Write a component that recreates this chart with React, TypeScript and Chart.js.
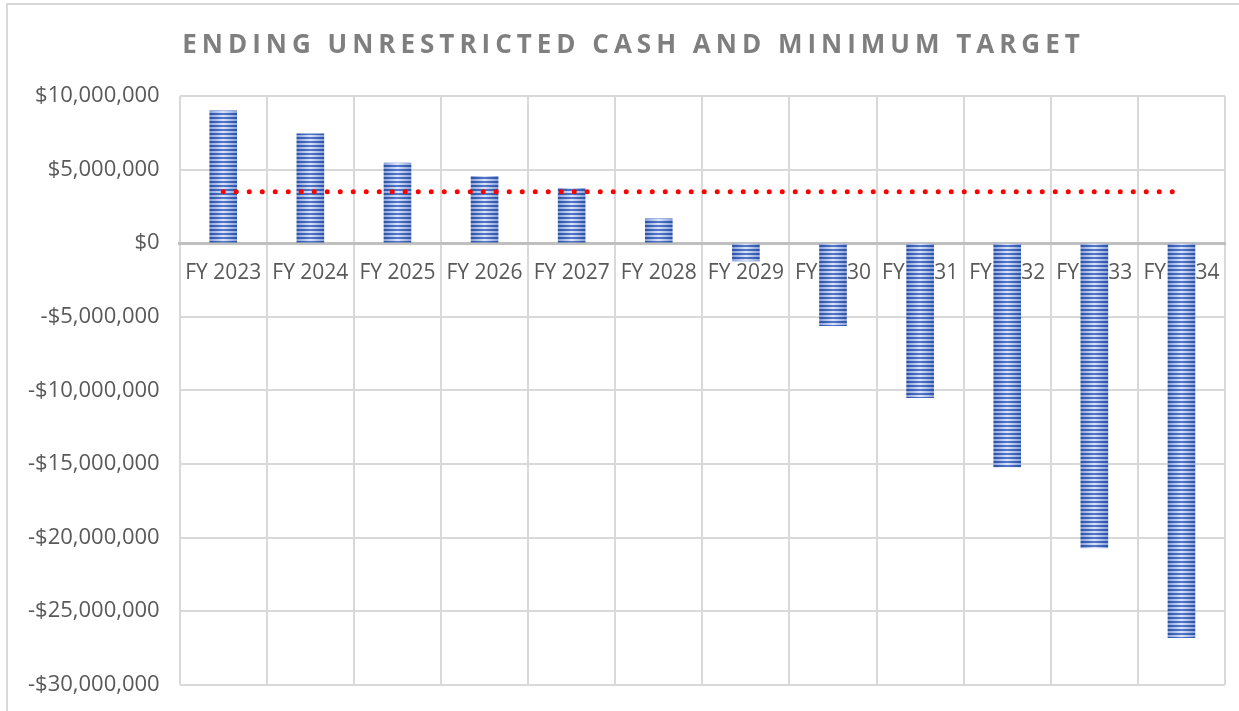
import React, { useEffect, useRef } from "react";
import { Chart, registerables } from "chart.js";

Chart.register(...registerables);

const chartTitle = "ENDING UNRESTRICTED CASH AND MINIMUM TARGET";
const categories = [
  "FY 2023", "FY 2024", "FY 2025", "FY 2026", "FY 2027", "FY 2028",
  "FY 2029", "FY 2030", "FY 2031", "FY 2032", "FY 2033", "FY 2034",
];
const endingCash = [
  9000000, 7430000, 5450000, 4550000, 3730000, 1660000,
  -1200000, -5600000, -10500000, -15200000, -20700000, -26800000,
];
const minimumTarget = [
  3500000, 3500000, 3500000, 3500000, 3500000, 3500000,
  3500000, 3500000, 3500000, 3500000, 3500000, 3500000,
];
const yMin = -30000000;
const yMax = 10000000;
const yStep = 5000000;

const BAR_W = 27;

function makeStripePattern(ctx: CanvasRenderingContext2D, left: number) {
  const c = document.createElement("canvas");
  c.width = BAR_W;
  c.height = 4;
  const p = c.getContext("2d")!;
  const dark = p.createLinearGradient(0, 0, BAR_W, 0);
  dark.addColorStop(0, "#2E53A6");
  dark.addColorStop(0.5, "#5277CC");
  dark.addColorStop(1, "#2E53A6");
  const light = p.createLinearGradient(0, 0, BAR_W, 0);
  light.addColorStop(0, "#8AA2DA");
  light.addColorStop(0.5, "#DCE5F7");
  light.addColorStop(1, "#8AA2DA");
  p.fillStyle = dark;
  p.fillRect(0, 0, BAR_W, 2);
  p.fillStyle = light;
  p.fillRect(0, 2, BAR_W, 2);
  const pat = ctx.createPattern(c, "repeat")!;
  if ((pat as any).setTransform) {
    pat.setTransform(new DOMMatrix().translate(left, 0));
  }
  return pat;
}

const fmt = (v: number) => {
  const s = "$" + Math.abs(v).toLocaleString("en-US");
  return v < 0 ? "-" + s : s;
};

const titlePlugin = {
  id: "spacedTitle",
  afterDraw(chart: any) {
    const ctx = chart.ctx as CanvasRenderingContext2D;
    ctx.save();
    ctx.font = 'bold 26px "Open Sans"';
    ctx.fillStyle = "#7F7F7F";
    (ctx as any).letterSpacing = "5px";
    ctx.textAlign = "center";
    ctx.textBaseline = "middle";
    ctx.fillText(chartTitle, chart.width / 2 + 10, 41);
    ctx.restore();
  },
};

export default function App() {
  const ref = useRef<HTMLCanvasElement | null>(null);

  useEffect(() => {
    document.body.style.overflow = "hidden";
    const canvas = ref.current!;
    const chart = new Chart(canvas, {
      data: {
        labels: categories,
        datasets: [
          {
            type: "line",
            label: "Minimum Target",
            data: minimumTarget,
            borderColor: "#FF0000",
            borderWidth: 5,
            borderDash: [0, 13],
            borderCapStyle: "round",
            pointRadius: 0,
            fill: false,
            order: 0,
          } as any,
          {
            type: "bar",
            label: "Ending Unrestricted Cash",
            data: endingCash,
            barThickness: BAR_W,
            borderWidth: 0,
            backgroundColor: (c: any) => {
              const ch = c.chart;
              const xs = ch.scales && ch.scales.x;
              if (c.type !== "data" || !xs) return "#4472C4";
              const cx = xs.getPixelForValue(c.dataIndex);
              return makeStripePattern(ch.ctx, cx - BAR_W / 2);
            },
            order: 1,
          } as any,
        ],
      },
      options: {
        animation: false,
        responsive: true,
        maintainAspectRatio: false,
        layout: { padding: { top: 91, left: 0, right: 14, bottom: 4 } },
        plugins: {
          legend: { display: false },
          title: { display: false },
          tooltip: { enabled: false },
        },
        scales: {
          x: {
            position: { y: 0 } as any,
            offset: true,
            grid: {
              display: true,
              offset: true,
              color: "#D9D9D9",
              lineWidth: 2,
              drawTicks: false,
            },
            border: { display: true, color: "#BFBFBF", width: 3 },
            ticks: {
              color: "#595959",
              font: { family: '"Open Sans"', size: 21 },
              padding: 17,
              maxRotation: 0,
              autoSkip: false,
            },
          },
          y: {
            min: yMin,
            max: yMax,
            ticks: {
              stepSize: yStep,
              color: "#595959",
              font: { family: '"Open Sans"', size: 22 },
              padding: 20,
              callback: (v: any) => fmt(Number(v)),
            },
            grid: { color: "#D9D9D9", lineWidth: 2, drawTicks: false },
            border: { display: false },
          },
        },
      },
      plugins: [titlePlugin],
    });
    return () => chart.destroy();
  }, []);

  return (
    <div
      style={{
        position: "absolute",
        left: 6,
        top: 3,
        right: 0,
        height: 715,
        borderTop: "2px solid #D9D9D9",
        borderLeft: "2px solid #D9D9D9",
        boxSizing: "border-box",
        background: "#FFFFFF",
      }}
    >
      <div style={{ position: "relative", width: "100%", height: "100%" }}>
        <canvas ref={ref} />
      </div>
    </div>
  );
}
